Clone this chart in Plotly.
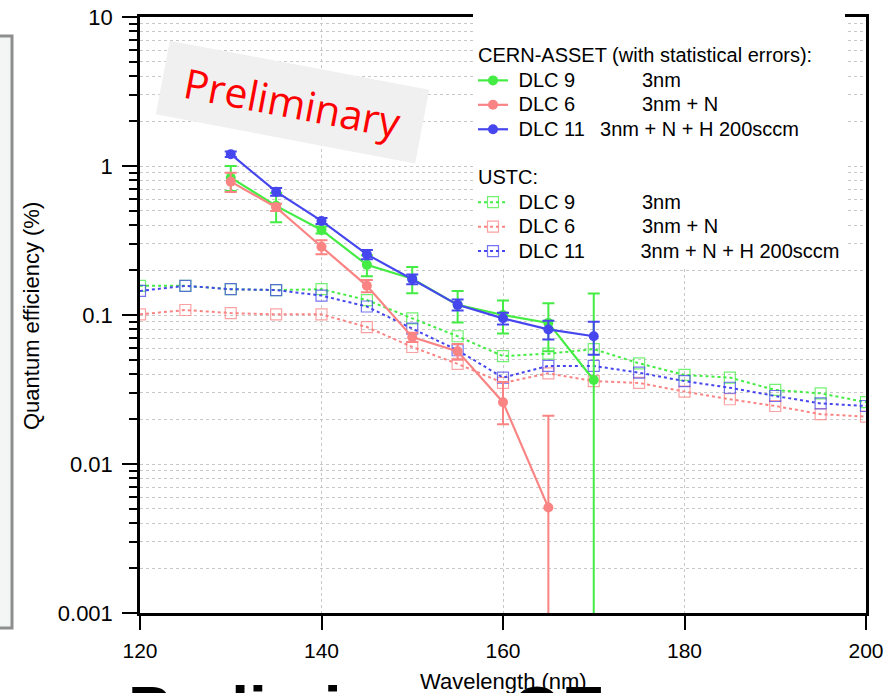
import plotly.graph_objects as go

# ---------------- data ----------------
wl_cern = [130, 135, 140, 145, 150, 155, 160, 165, 170]
wl_cern6 = [130, 135, 140, 145, 150, 155, 160, 165]

cern_dlc9 = [0.835, 0.54, 0.372, 0.217, 0.175, 0.117, 0.100, 0.0885, 0.0366]
cern_dlc9_up = [0.165, 0.12, 0.02, 0.035, 0.035, 0.028, 0.025, 0.0315, 0.103]
cern_dlc9_dn = [0.155, 0.12, 0.02, 0.035, 0.035, 0.028, 0.025, 0.0315, 0.04]

cern_dlc6 = [0.785, 0.528, 0.287, 0.157, 0.071, 0.057, 0.026, 0.0051]
cern_dlc6_up = [0.117, 0.03, 0.031, 0.015, 0.005, 0.007, 0.0095, 0.016]
cern_dlc6_dn = [0.117, 0.03, 0.031, 0.015, 0.005, 0.007, 0.0075, 0.006]

cern_dlc11 = [1.2, 0.672, 0.428, 0.255, 0.174, 0.117, 0.095, 0.080, 0.072]
cern_dlc11_err = [0.05, 0.04, 0.02, 0.018, 0.013, 0.01, 0.0085, 0.0115, 0.018]

wl_ustc = [120, 125, 130, 135, 140, 145, 150, 155, 160, 165, 170, 175, 180, 185, 190, 195, 200]
ustc_dlc9 = [0.157, 0.157, 0.149, 0.147, 0.149, 0.126, 0.095, 0.072, 0.053, 0.055, 0.059,
             0.0474, 0.0396, 0.038, 0.0314, 0.0298, 0.026]
ustc_dlc6 = [0.101, 0.108, 0.103, 0.101, 0.101, 0.083, 0.061, 0.047, 0.035, 0.0406, 0.036,
             0.035, 0.0306, 0.0272, 0.0245, 0.0216, 0.0208]
ustc_dlc11 = [0.145, 0.157, 0.149, 0.147, 0.135, 0.114, 0.081, 0.058, 0.038, 0.0455, 0.0455,
              0.041, 0.036, 0.0325, 0.0286, 0.0255, 0.0245]

y_tickvals = [0.001, 0.01, 0.1, 1, 10]
y_ticktext = ["0.001", "0.01", "0.1", "1", "10"]
x_tickvals = [120, 140, 160, 180, 200]

GREEN = "#44ec44"
RED = "#fa8484"
BLUE = "#4646ee"
GREEN_L = "rgba(68,236,68,0.75)"
RED_L = "rgba(250,132,132,0.75)"
BLUE_L = "rgba(70,70,238,0.75)"

NB = "\u00a0"
LEG = '<span style="font-size:20px">{}</span>'

fig = go.Figure()

# USTC (dotted, open squares) drawn first
for name, vals, col, coll, rank in [
    (NB + "DLC 9" + NB * 12 + "3nm", ustc_dlc9, GREEN, GREEN_L, 4),
    (NB + "DLC 6" + NB * 12 + "3nm + N", ustc_dlc6, RED, RED_L, 5),
    (NB + "DLC 11" + NB * 10 + "3nm + N + H 200sccm", ustc_dlc11, BLUE, BLUE_L, 6),
]:
    fig.add_trace(go.Scatter(
        x=wl_ustc, y=vals, mode="lines+markers", name=LEG.format(name),
        line=dict(color=col, width=2, dash="dot"),
        marker=dict(symbol="square-open", size=11, color=coll, line=dict(width=1.2, color=coll)),
        legendgroup="ustc", legendrank=rank,
        legendgrouptitle=dict(text=LEG.format("USTC:"), font=dict(size=16.5, color="black")),
    ))

# CERN-ASSET (solid, filled circles, error bars)
cern = [
    (NB + "DLC 9" + NB * 12 + "3nm", wl_cern, cern_dlc9, cern_dlc9_up, cern_dlc9_dn, GREEN, 1),
    (NB + "DLC 6" + NB * 12 + "3nm + N", wl_cern6, cern_dlc6, cern_dlc6_up, cern_dlc6_dn, RED, 2),
    (NB + "DLC 11" + NB * 2 + "\u2009" + "3nm + N + H 200sccm", wl_cern, cern_dlc11,
     cern_dlc11_err, cern_dlc11_err, BLUE, 3),
]
for name, xs, vals, up, dn, col, rank in cern:
    fig.add_trace(go.Scatter(
        x=xs, y=vals, mode="lines+markers", name=LEG.format(name),
        line=dict(color=col, width=2.2),
        marker=dict(symbol="circle", size=10, color=col),
        error_y=dict(type="data", symmetric=False, array=up, arrayminus=dn,
                     color=col, thickness=2, width=6),
        legendgroup="cern", legendrank=rank,
        legendgrouptitle=dict(text=LEG.format("CERN-ASSET (with statistical errors):"),
                              font=dict(size=16.5, color="black")),
    ))

W, H = 886, 693
ML, MR, MT, MB = 140, 20, 17, 80
PW = W - ML - MR
PH = H - MT - MB


def px(xp):
    return (xp - ML) / PW


def py(yp):
    return (H - MB - yp) / PH


FONT = "Liberation Sans, Arial, sans-serif"
grid_col = "#c8c8c8"

fig.update_layout(
    width=W, height=H,
    margin=dict(l=ML, r=MR, t=MT, b=MB, autoexpand=False),
    paper_bgcolor="white", plot_bgcolor="white",
    font=dict(family=FONT, size=16, color="black"),
    showlegend=True,
    legend=dict(
        x=px(473), y=py(14), xanchor="left", yanchor="top",
        bgcolor="white", borderwidth=0,
        font=dict(size=16.5, color="black"),
        itemwidth=30, tracegroupgap=24,
        title=dict(text=NB, font=dict(size=19)),
        traceorder="grouped",
        itemclick=False, itemdoubleclick=False,
    ),
    xaxis=dict(
        range=[120, 200], tickvals=x_tickvals, ticks="outside", ticklen=14, tickwidth=2,
        tickcolor="black", showline=True, linecolor="black", linewidth=2.5, mirror=True,
        showgrid=True, gridcolor=grid_col, griddash="dot", gridwidth=1,
        zeroline=False, tickfont=dict(family=FONT, size=21, color="black"),
        ticklabelstandoff=3, automargin=False,
    ),
    yaxis=dict(
        type="log", range=[-3, 1], tickvals=y_tickvals, ticktext=y_ticktext,
        ticks="outside", ticklen=15, tickwidth=2, tickcolor="black",
        showline=True, linecolor="black", linewidth=2.5, mirror=True,
        showgrid=True, gridcolor=grid_col, griddash="dot", gridwidth=1,
        minor=dict(dtick="D1", ticks="outside", ticklen=8, tickwidth=2, tickcolor="black",
                   showgrid=True, gridcolor=grid_col, griddash="dot", gridwidth=1),
        zeroline=False, tickfont=dict(family=FONT, size=22, color="black"),
        ticklabelstandoff=5, automargin=False,
    ),
)

# slide decoration on the left edge
fig.add_shape(type="rect", xref="paper", yref="paper",
              x0=px(-20), x1=px(12), y0=py(628), y1=py(36),
              fillcolor="#f4f6f6", line=dict(color="#8e8e8e", width=3), layer="below")

# big cut-off slide text at the bottom
fig.add_annotation(text="<b>Preliminary  QE</b>", xref="paper", yref="paper",
                   x=px(126), y=py(672), xanchor="left", yanchor="top", showarrow=False,
                   font=dict(family=FONT, size=64, color="black"))

# axis titles
fig.add_annotation(text="Wavelength (nm)", xref="paper", yref="paper",
                   x=px(503), y=py(681), xanchor="center", yanchor="middle", showarrow=False,
                   font=dict(family=FONT, size=22, color="black"))
fig.add_annotation(text="Quantum efficiency (%)", xref="paper", yref="paper",
                   x=px(31), y=py(316), xanchor="center", yanchor="middle", showarrow=False,
                   textangle=-90,
                   font=dict(family=FONT, size=22, color="black"))

# "Preliminary" stamp
fig.add_annotation(text="Preliminary", xref="paper", yref="paper",
                   x=px(292), y=py(102), xanchor="center", yanchor="middle", showarrow=False,
                   textangle=10.75, bgcolor="#f0f0f0", width=255, height=66, borderpad=4,
                   font=dict(family="Open Sans, Noto Sans, sans-serif", size=41, color="#ff0000"))

fig.write_html("out.html", config={"displayModeBar": False})
